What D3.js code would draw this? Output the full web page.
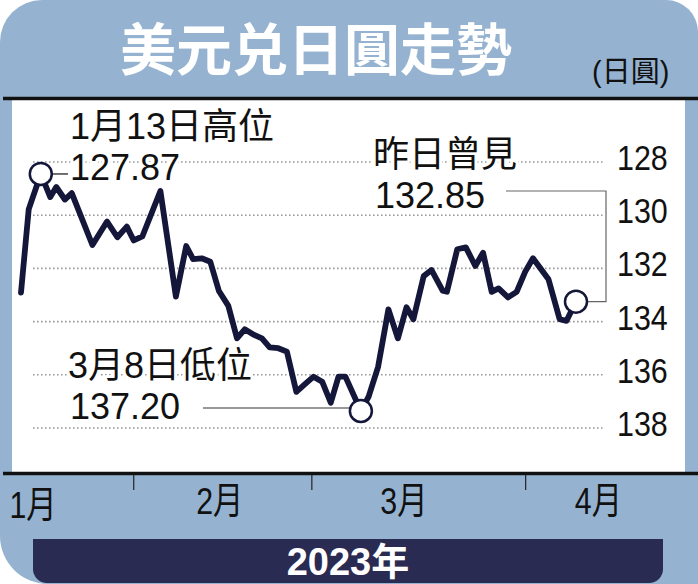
<!DOCTYPE html>
<html><head><meta charset="utf-8">
<script src="https://cdn.jsdelivr.net/npm/d3@7"></script>
<style>body{margin:0;background:#fff}svg{display:block}</style>
</head><body>
<script>
// ---- data ----
const titleText = "美元兑日圓走勢";
const unitText = "(日圓)";
const yearText = "2023年";
// trading-day offset from the first point
const tradingDay = [0,0.9,2.3,3.4,4.1,5.1,5.9,8.3,10,11.2,12.3,13.1,14.1,16.2,18,19.2,20,21,22,23,24.1,25.1,26,27.1,28,28.9,29.9,30.9,32,33,34,35,36,36.9,37.7,39.5,40.4,41.5,42.7,43.8,44.8,45.6,46.8,47.7,49,49.5,50.7,51.7,52.8,53.7,54.7,55.5,56.6,57.6,58.6,59.5,61.3,62.6,63.4,64.5];
const usdJpy = [132.91,129.77,128.45,129.32,128.94,129.41,129.17,131.12,130.24,130.83,130.43,130.95,130.80,129.09,133.06,131.16,131.65,131.62,131.75,132.85,133.41,134.63,134.29,134.50,134.63,134.97,135.00,135.13,136.64,136.35,136.07,136.26,137.05,136.07,136.07,137.36,136.82,135.70,133.54,134.63,133.46,133.91,132.29,132.06,132.84,132.88,131.28,131.21,131.91,131.41,132.88,132.75,133.09,132.88,132.12,131.62,132.41,133.91,133.97,133.25];
const yTicks = [128,130,132,134,136,138];
const monthLabels = ["1月","2月","3月","4月"];
const monthLabelDay = [1.4,23.1,44.5,67.1];
const monthBoundaryDay = [13.1,33.8,58.65];
const highLabel = ["1月13日高位","127.87"];
const lowLabel = ["3月8日低位","137.20"];
const lastLabel = ["昨日曾見","132.85"];
const highIdx = 2, lowIdx = 35, lastIdx = usdJpy.length - 1;

// ---- drawing ----
const W = 698, H = 584;
const svg = d3.select("body").append("svg").attr("width", W).attr("height", H);
const bg = "#95b3d1", navy = "#2a2b52", lineCol = "#14163a";
const latin = "'Liberation Sans', Arial, 'Noto Sans CJK TC', sans-serif";
const cjk = "'Noto Sans CJK TC', 'Liberation Sans', sans-serif";

function rp(x, y, w, h, tl, tr, br, bl) {
  return `M${x+tl},${y} H${x+w-tr} A${tr},${tr} 0 0 1 ${x+w},${y+tr} V${y+h-br} A${br},${br} 0 0 1 ${x+w-br},${y+h} H${x+bl} A${bl},${bl} 0 0 1 ${x},${y+h-bl} V${y+tl} A${tl},${tl} 0 0 1 ${x+tl},${y} Z`;
}
svg.append("path").attr("d", rp(0, 0, W, H, 42, 32, 0, 48)).attr("fill", bg);

// title
svg.append("text").attr("x", 120).attr("y", 70).text(titleText)
  .attr("font-family", cjk).attr("font-weight", 700).attr("font-size", 56).attr("fill", "#fff");
svg.append("text").attr("x", 592).attr("y", 82).text(unitText)
  .attr("font-family", latin).attr("font-size", 29).attr("fill", "#111");

// plot area
svg.append("rect").attr("x", 12).attr("y", 99).attr("width", 673).attr("height", 374).attr("fill", "#fff");
svg.append("line").attr("x1", 3).attr("x2", W).attr("y1", 98.5).attr("y2", 98.5).attr("stroke", "#111").attr("stroke-width", 3.5);
svg.append("line").attr("x1", 3).attr("x2", W).attr("y1", 473.5).attr("y2", 473.5).attr("stroke", "#111").attr("stroke-width", 3.5);

const x = d3.scaleLinear().domain([0, 64.5]).range([21, 576]);
const y = d3.scaleLinear().domain([128, 138]).range([162, 428]);

// grid
svg.append("g").selectAll("line").data(yTicks).join("line")
  .attr("x1", 33).attr("x2", 604).attr("y1", d => y(d)).attr("y2", d => y(d))
  .attr("stroke", "#9a9a9a").attr("stroke-width", 1.6).attr("stroke-dasharray", "1.6,2.4");

// y labels
svg.append("g").selectAll("text").data(yTicks).join("text")
  .attr("transform", d => `translate(617,${y(d) + 8}) scale(0.87,1)`)
  .text(d => d).attr("font-family", latin).attr("font-size", 35).attr("fill", "#111");

// line
const pts = tradingDay.map((t, i) => [t, usdJpy[i]]);
svg.append("path").datum(pts)
  .attr("d", d3.line().x(d => x(d[0])).y(d => y(d[1])))
  .attr("fill", "none").attr("stroke", lineCol).attr("stroke-width", 5.8)
  .attr("stroke-linejoin", "round").attr("stroke-linecap", "round");

const r = 11;
const hx = x(tradingDay[highIdx]), hy = y(usdJpy[highIdx]);
const lx = x(tradingDay[lowIdx]), ly = y(usdJpy[lowIdx]);
const ex = x(tradingDay[lastIdx]), ey = y(usdJpy[lastIdx]);

// leaders
const lead = svg.append("g").attr("fill", "none").attr("stroke", "#555").attr("stroke-width", 1.2);
lead.append("path").attr("d", `M${hx + r},${hy} H68`).attr("stroke", "#111");
lead.append("path").attr("d", `M203,${ly - 3} H${lx - r}`).attr("stroke", "#333");
lead.append("path").attr("d", `M506,191 H606 V${ey} H${ex + r}`).attr("stroke", "#666");

// circles
svg.append("g").selectAll("circle").data([highIdx, lowIdx, lastIdx]).join("circle")
  .attr("cx", i => x(tradingDay[i])).attr("cy", i => y(usdJpy[i])).attr("r", r)
  .attr("fill", "#fff").attr("stroke", lineCol).attr("stroke-width", 2.5);

// annotations
function ann(txt, xx, yy, fs) {
  svg.append("text").attr("x", xx).attr("y", yy).text(txt)
    .attr("font-family", latin).attr("font-size", fs).attr("fill", "#111")
    .attr("stroke", "#fff").attr("stroke-width", 6).attr("paint-order", "stroke").attr("stroke-linejoin", "round");
}
ann(highLabel[0], 70, 139, 36);
ann(highLabel[1], 70, 180, 36);
ann(lastLabel[0], 373, 167, 36);
ann(lastLabel[1], 375, 208, 36);
ann(lowLabel[0], 68, 378, 36);
ann(lowLabel[1], 70, 419, 36);

// month ticks & labels
svg.append("g").selectAll("line").data(monthBoundaryDay).join("line")
  .attr("x1", d => x(d)).attr("x2", d => x(d)).attr("y1", 475).attr("y2", 490)
  .attr("stroke", "#222").attr("stroke-width", 1.2);
svg.append("g").selectAll("text").data(monthLabels).join("text")
  .attr("transform", (d, i) => `translate(${x(monthLabelDay[i])},${i === 0 ? 518 : 514}) scale(0.82,1)`)
  .attr("text-anchor", "middle").text(d => d)
  .attr("font-family", latin).attr("font-size", 37).attr("fill", "#111");

// year bar
svg.append("path").attr("d", rp(33, 539, 630, 44, 0, 0, 14, 14)).attr("fill", navy);
svg.append("text").attr("x", 348).attr("y", 575).attr("text-anchor", "middle").text(yearText)
  .attr("font-family", latin).attr("font-weight", 700).attr("font-size", 38).attr("fill", "#fff");
</script>
</body></html>
